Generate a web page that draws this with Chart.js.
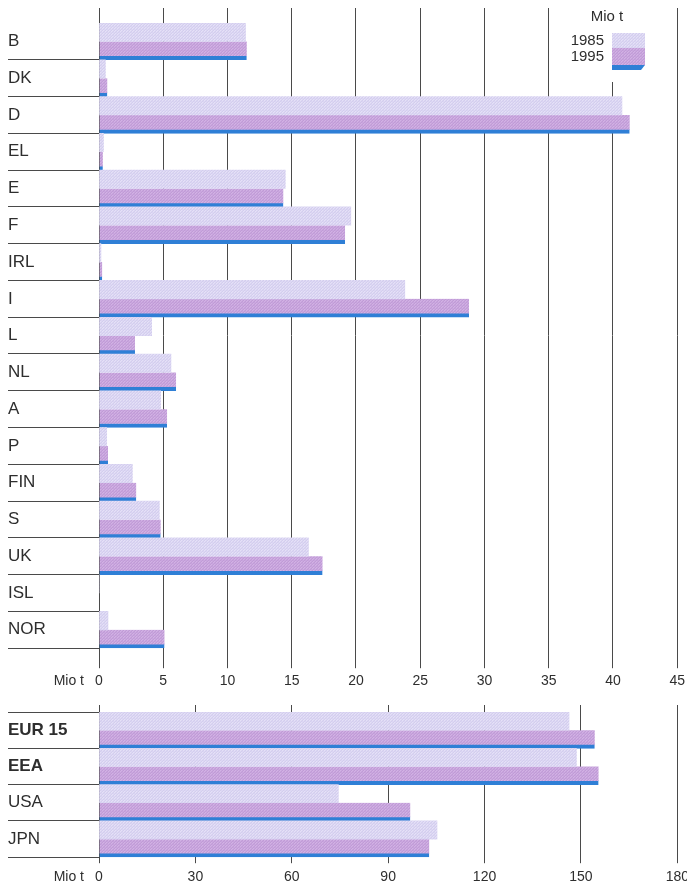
<!DOCTYPE html>
<html>
<head>
<meta charset="utf-8">
<script src="https://cdn.jsdelivr.net/npm/chart.js@4.4.1/dist/chart.umd.min.js"></script>
<style>
  html, body { margin: 0; background: #fff; overflow: hidden; }
  canvas { position: absolute; left: 0; }
  #top { top: 0; }
  #bottom { top: 695px; }
</style>
</head>
<body>
<canvas id="top" width="690" height="695"></canvas>
<canvas id="bottom" width="695" height="197"></canvas>
<script>
// countries, Mio t
const countries = ["B", "DK", "D", "EL", "E", "F", "IRL", "I", "L", "NL", "A", "P", "FIN", "S", "UK", "ISL", "NOR"];
const c1985 = [11.4, 0.5, 40.7, 0.35, 14.5, 19.6, 0.15, 23.8, 4.1, 5.6, 4.8, 0.6, 2.6, 4.7, 16.3, 0, 0.7];
const c1995 = [11.5, 0.65, 41.3, 0.3, 14.35, 19.15, 0.25, 28.8, 2.8, 6.0, 5.3, 0.7, 2.9, 4.8, 17.4, 0, 5.1];
const topTicks = [0, 5, 10, 15, 20, 25, 30, 35, 40, 45];

// totals, Mio t
const groups = ["EUR 15", "EEA", "USA", "JPN"];
const g1985 = [146.3, 148.6, 74.5, 105.2];
const g1995 = [154.3, 155.5, 96.9, 102.8];
const bottomTicks = [0, 30, 60, 90, 120, 150, 180];

const years = ["1985", "1995"];

const FONT = "'Liberation Sans', Arial, sans-serif";
const LINE = "#4a4a4a";
const TEXT = "#2e2e2e";
const BLUE = "#2f7fd6";

// fine dither texture like the printed bars
function makePattern(base, dark, light) {
  const c = document.createElement("canvas");
  c.width = 3; c.height = 3;
  const g = c.getContext("2d");
  g.fillStyle = base; g.fillRect(0, 0, 3, 3);
  g.fillStyle = dark;
  g.fillRect(0, 0, 1, 1); g.fillRect(2, 1, 1, 1); g.fillRect(1, 2, 1, 1);
  g.fillStyle = light;
  g.fillRect(1, 0, 1, 1); g.fillRect(0, 1, 1, 1);
  return g.createPattern(c, "repeat");
}
const lightFill = makePattern("#dcd7f3", "#d3cdee", "#e5e1f7");
const purpleFill = makePattern("#c9a6de", "#c09bd6", "#d2b2e4");

function datasets(a, b) {
  return [
    { label: years[0], data: a, backgroundColor: lightFill, borderWidth: 0 },
    {
      label: years[1], data: b, backgroundColor: purpleFill,
      borderColor: BLUE, borderWidth: { top: 0, right: 0, bottom: 4, left: 0 }, borderSkipped: "left"
    },
  ];
}

function scalesFor(max, ticksList, topLen, botLen, pad, hideFirst) {
  const step = ticksList[1] - ticksList[0];
  const sepColor = (ctx) => (hideFirst && ctx.index === 0 ? "rgba(0,0,0,0)" : LINE);
  return {
    x: {
      position: "bottom", min: 0, max: max,
      border: { display: false },
      grid: { color: LINE, lineWidth: 1, tickLength: botLen, tickColor: LINE },
      ticks: { stepSize: step, padding: pad, color: TEXT, font: { family: FONT, size: 14 } },
    },
    x2: {
      position: "top", min: 0, max: max,
      border: { display: false },
      grid: { drawOnChartArea: false, tickLength: topLen, color: LINE, tickColor: LINE },
      ticks: { stepSize: step, display: false },
    },
    y: {
      border: { display: false },
      grid: { drawOnChartArea: false, tickLength: 91, color: sepColor, tickColor: sepColor, lineWidth: 1, offset: true },
      ticks: { crossAlign: "far", color: TEXT, font: { family: FONT, size: 17 } },
      afterFit: (s) => { s.width = 91; },
    },
  };
}

// "Mio t" in front of the value labels
const unitLabel = {
  id: "unitLabel",
  afterDraw(chart) {
    const s = chart.scales.x;
    const o = s.options;
    const y = s.top + o.grid.tickLength + o.ticks.padding + 8.4;
    const ctx = chart.ctx;
    ctx.save();
    ctx.font = "14px " + FONT;
    ctx.fillStyle = TEXT;
    ctx.textAlign = "right";
    ctx.textBaseline = "middle";
    ctx.fillText("Mio t", 84, y);
    ctx.restore();
  },
};

// legend box at the top right
const legendBox = {
  id: "legendBox",
  afterDraw(chart) {
    const ctx = chart.ctx;
    ctx.save();
    ctx.fillStyle = "#fff";
    ctx.fillRect(556, 0, 112, 82);
    ctx.fillStyle = TEXT;
    ctx.font = "15px " + FONT;
    ctx.textBaseline = "middle";
    ctx.textAlign = "center";
    ctx.fillText("Mio t", 607, 17);
    ctx.textAlign = "right";
    ctx.fillText(years[0], 604, 41);
    ctx.fillText(years[1], 604, 57);
    ctx.fillStyle = lightFill;
    ctx.fillRect(612, 33, 33, 15);
    ctx.fillStyle = purpleFill;
    ctx.fillRect(612, 48, 33, 17);
    ctx.fillStyle = BLUE;
    ctx.beginPath();
    ctx.moveTo(612, 65); ctx.lineTo(645, 65); ctx.lineTo(641, 70); ctx.lineTo(612, 70);
    ctx.closePath(); ctx.fill();
    ctx.restore();
  },
};

const common = {
  responsive: false,
  animation: false,
  indexAxis: "y",
  categoryPercentage: 1,
  barPercentage: 1,
  plugins: { legend: { display: false }, tooltip: { enabled: false } },
};

new Chart(document.getElementById("top").getContext("2d"), {
  type: "bar",
  data: { labels: countries, datasets: datasets(c1985, c1995) },
  options: Object.assign({}, common, {
    layout: { padding: { left: 8, right: 0, top: 8, bottom: 0 } },
    scales: scalesFor(45, topTicks, 15, 20, 5, true),
  }),
  plugins: [unitLabel, legendBox],
});

const bottomScales = scalesFor(180, bottomTicks, 7, 6, 6, false);
bottomScales.y.ticks.font = (ctx) => ({ family: FONT, size: 17, weight: ctx.index < 2 ? "bold" : "normal" });

new Chart(document.getElementById("bottom").getContext("2d"), {
  type: "bar",
  data: { labels: groups, datasets: datasets(g1985, g1995) },
  options: Object.assign({}, common, {
    layout: { padding: { left: 8, right: 0, top: 10, bottom: 0 } },
    scales: bottomScales,
  }),
  plugins: [unitLabel],
});
</script>
</body>
</html>
